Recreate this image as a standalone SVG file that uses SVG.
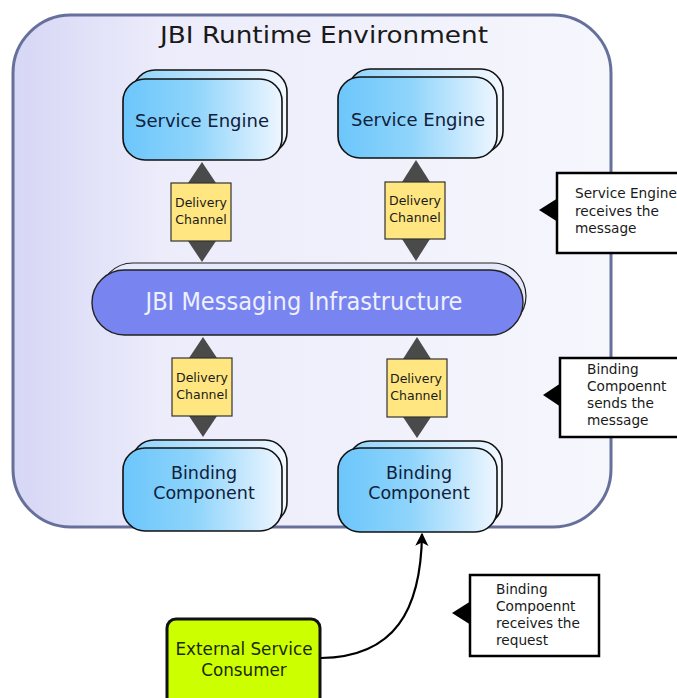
<svg xmlns="http://www.w3.org/2000/svg" width="677" height="698" viewBox="0 0 677 698">
<style>
text{font-family:"DejaVu Sans","Liberation Sans",sans-serif;fill:#1a1a1a}
.comp{stroke:#111;stroke-width:1.6}
.dc{fill:#ffe680;stroke:#333;stroke-width:1.2}
.tri{fill:#4a4a4a}
.dct{font-size:12.5px;text-anchor:middle}
.nt{font-size:18px;text-anchor:middle;fill:#10203a}
.bt{font-size:17.5px;text-anchor:middle;fill:#10203a}
.call{fill:#fff;stroke:#000;stroke-width:2.5}
.ct{font-size:13.7px}
</style>
<defs>
<linearGradient id="env" x1="0" y1="0" x2="1" y2="0">
<stop offset="0" stop-color="#d6d6f6"/>
<stop offset="0.25" stop-color="#ececfb"/>
<stop offset="1" stop-color="#f6f6fd"/>
</linearGradient>
<linearGradient id="blue" x1="0" y1="0" x2="1" y2="0">
<stop offset="0" stop-color="#6cc6fb"/>
<stop offset="0.45" stop-color="#8ed4fb"/>
<stop offset="1" stop-color="#eef6ff"/>
</linearGradient>
<linearGradient id="blueb" x1="0" y1="0" x2="1" y2="0">
<stop offset="0" stop-color="#8fd3fb"/>
<stop offset="1" stop-color="#f4f9ff"/>
</linearGradient>
<marker id="ah" viewBox="0 0 10 10" refX="9" refY="5" markerWidth="6" markerHeight="8" orient="auto">
<path d="M0,0 L10,5 L0,10 L2.5,5 z" fill="#000"/>
</marker>
</defs>

<g id="env-box">
<rect x="13" y="15" width="598" height="512" rx="58" ry="58" fill="url(#env)" stroke="#66709a" stroke-width="3"/>
<text x="160" y="43" font-size="23.5" textLength="328" lengthAdjust="spacingAndGlyphs">JBI Runtime Environment</text>
</g>

<g id="se-left">
<rect class="comp" x="133" y="70" width="154" height="84" rx="22" fill="url(#blueb)"/>
<rect class="comp" x="123" y="79" width="159" height="81" rx="22" fill="url(#blue)"/>
<text class="nt" x="202" y="127">Service Engine</text>
</g>
<g id="se-right">
<rect class="comp" x="348" y="69" width="155" height="84" rx="22" fill="url(#blueb)"/>
<rect class="comp" x="338" y="77" width="159" height="81" rx="22" fill="url(#blue)"/>
<text class="nt" x="418" y="126">Service Engine</text>
</g>

<g id="mi">
<rect x="100" y="263" width="426" height="66" rx="33" fill="#e6e8fb" stroke="#222" stroke-width="1.2"/>
<rect x="92" y="270" width="431" height="65" rx="32.5" fill="#7884ef" stroke="#222" stroke-width="1.4"/>
<text x="304" y="310" font-size="25" text-anchor="middle" style="fill:#eef0ff;font-family:'DejaVu Sans Condensed','DejaVu Sans',sans-serif" textLength="317" lengthAdjust="spacingAndGlyphs">JBI Messaging Infrastructure</text>
</g>

<g id="dc-tl">
<polygon class="tri" points="202,162 216,183 188,183"/>
<polygon class="tri" points="202,262 216,241 188,241"/>
<rect class="dc" x="171" y="183" width="60" height="58"/>
<text class="dct" x="201" y="207">Delivery</text>
<text class="dct" x="201" y="224">Channel</text>
</g>
<g id="dc-tr">
<polygon class="tri" points="416,160 430,182 402,182"/>
<polygon class="tri" points="416,261 430,239 402,239"/>
<rect class="dc" x="385" y="182" width="60" height="57"/>
<text class="dct" x="415" y="205">Delivery</text>
<text class="dct" x="415" y="222">Channel</text>
</g>
<g id="dc-bl">
<polygon class="tri" points="203,337 217,358 189,358"/>
<polygon class="tri" points="203,437 217,416 189,416"/>
<rect class="dc" x="172" y="358" width="60" height="58"/>
<text class="dct" x="202" y="382">Delivery</text>
<text class="dct" x="202" y="399">Channel</text>
</g>
<g id="dc-br">
<polygon class="tri" points="417,337 431,359 403,359"/>
<polygon class="tri" points="417,438 431,417 403,417"/>
<rect class="dc" x="387" y="359" width="60" height="58"/>
<text class="dct" x="416" y="383">Delivery</text>
<text class="dct" x="416" y="400">Channel</text>
</g>

<g id="bc-left">
<rect class="comp" x="132" y="440" width="155" height="84" rx="22" fill="url(#blueb)"/>
<rect class="comp" x="123" y="448" width="159" height="83" rx="22" fill="url(#blue)"/>
<text class="bt" x="204" y="479">Binding</text>
<text class="bt" x="204" y="499">Component</text>
</g>
<g id="bc-right">
<rect class="comp" x="348" y="441" width="154" height="84" rx="22" fill="url(#blueb)"/>
<rect class="comp" x="338" y="448" width="159" height="84" rx="22" fill="url(#blue)"/>
<text class="bt" x="419" y="479">Binding</text>
<text class="bt" x="419" y="499">Component</text>
</g>

<g id="consumer">
<rect x="167" y="619" width="153" height="90" rx="9" fill="#ccff00" stroke="#111" stroke-width="3"/>
<text class="bt" x="244" y="655" style="fill:#1a2a00;font-size:16.8px">External Service</text>
<text class="bt" x="244" y="676" style="fill:#1a2a00;font-size:16.8px">Consumer</text>
</g>

<g id="callout-1">
<rect class="call" x="557" y="173" width="130" height="80"/>
<polygon points="539,210 558,198 558,222" fill="#000"/>
<text class="ct" x="575" y="198">Service Engine</text>
<text class="ct" x="575" y="216">receives the</text>
<text class="ct" x="575" y="233">message</text>
</g>
<g id="callout-2">
<rect class="call" x="560" y="358" width="130" height="79"/>
<polygon points="543,395 561,383 561,407" fill="#000"/>
<text class="ct" x="587" y="374">Binding</text>
<text class="ct" x="587" y="391">Compoennt</text>
<text class="ct" x="587" y="408">sends the</text>
<text class="ct" x="587" y="425">message</text>
</g>
<g id="callout-3">
<rect class="call" x="470" y="575" width="129" height="81"/>
<polygon points="452,613 471,601 471,625" fill="#000"/>
<text class="ct" x="496" y="594">Binding</text>
<text class="ct" x="496" y="611">Compoennt</text>
<text class="ct" x="496" y="628">receives the</text>
<text class="ct" x="496" y="645">request</text>
</g>

<g id="connectors">
<path d="M321,658 C395,657 421,610 422,534" fill="none" stroke="#000" stroke-width="2.2" marker-end="url(#ah)"/>
</g>
</svg>
